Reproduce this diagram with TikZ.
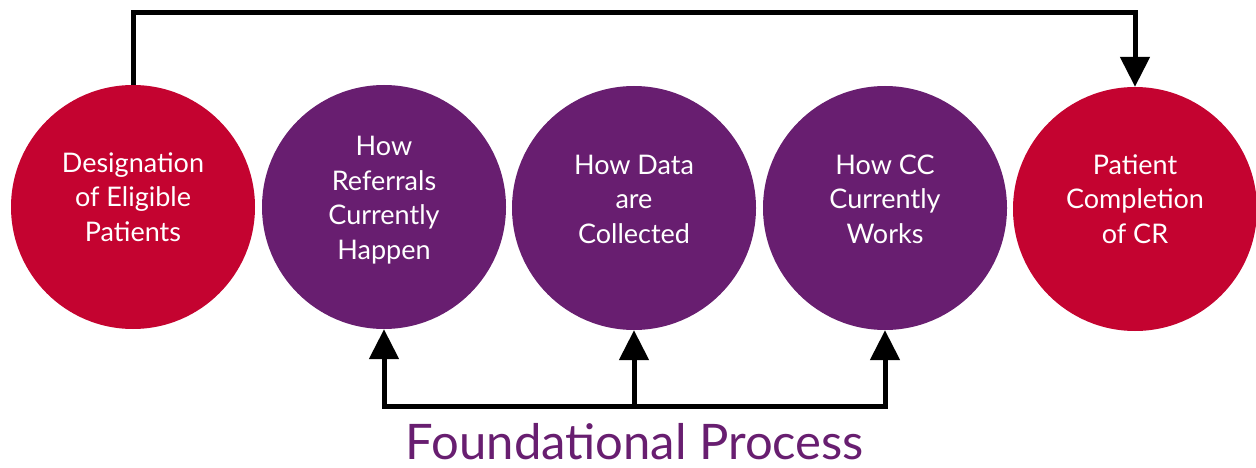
\documentclass[tikz,border=0pt]{standalone}
\usepackage{fontspec}
\setmainfont{Lato}
\usetikzlibrary{arrows.meta}
\definecolor{cred}{RGB}{196,3,48}
\definecolor{cpurple}{RGB}{104,30,112}
\tikzset{
  disc/.style={circle, minimum size=244pt, inner sep=0pt},
  reddisc/.style={disc, fill=cred},
  purpdisc/.style={disc, fill=cpurple},
  disctext/.style={text=white, align=center, inner sep=0pt, font=\fontsize{27}{34.5}\selectfont},
  conn/.style={line width=5pt, line join=miter, black, >={Triangle[width=29pt,length=30pt]}}
}
\begin{document}
\begin{tikzpicture}[x=1pt,y=-1pt]
\useasboundingbox (0,0) rectangle (1256,468);
\node[reddisc]  (c1) at (133,207) {};
\node[purpdisc] (c2) at (384,207) {};
\node[purpdisc] (c3) at (634,208) {};
\node[purpdisc] (c4) at (885,208) {};
\node[reddisc]  (c5) at (1135,209) {};
\node[disctext] (t1) at (133,197) {Designation\\of Eligible\\Patients};
\node[disctext] (t2) at (384,200) {How\\Referrals\\Currently\\Happen};
\node[disctext] (t3) at (634,199) {How Data\\are\\Collected};
\node[disctext] (t4) at (885,199) {How CC\\Currently\\Works};
\node[disctext] (t5) at (1135,199) {Patient\\Completion\\of CR};
\coordinate (top) at (634,13);
\coordinate (bar) at (634,406);
\draw[conn,->] (c1.north) -- (c1.north |- top) -- (c5.north |- top) -- (c5.north);
\draw[conn,<->] (c2.south) -- (c2.south |- bar) -- (c4.south |- bar) -- (c4.south);
\draw[conn,->] (bar) -- (c3.south);
\node[text=cpurple, font=\fontsize{49}{56}\selectfont, anchor=base, inner sep=0pt] (fp) at (635,459) {Foundational Process};
\end{tikzpicture}
\end{document}
